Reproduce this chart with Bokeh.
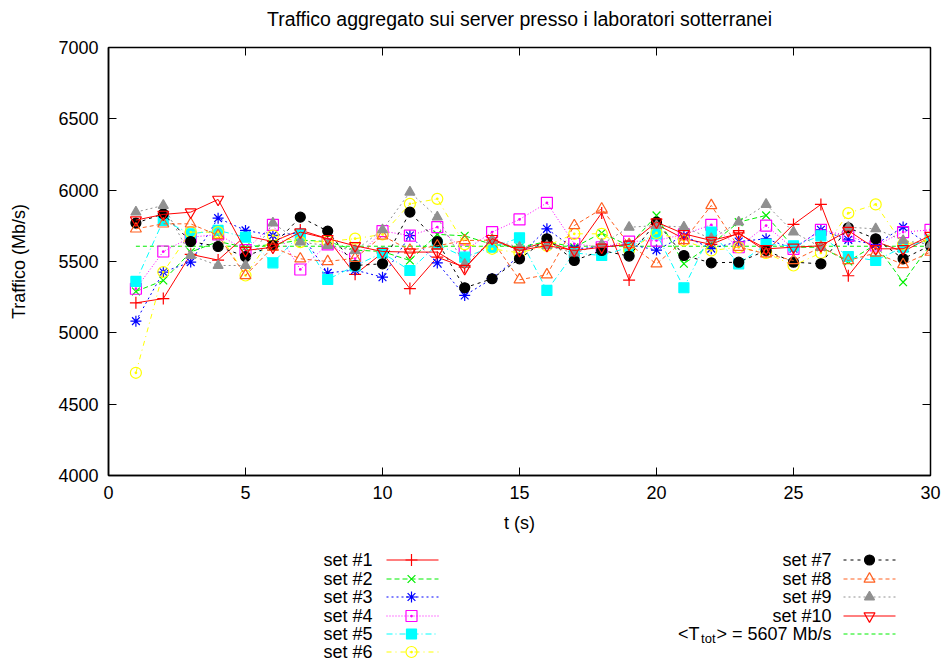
from bokeh.plotting import figure
from bokeh.layouts import column
from bokeh.models import Range1d, LinearAxis, FixedTicker
from bokeh.core.properties import value
from bokeh.embed import file_html
from bokeh.resources import INLINE

t = list(range(1, 31))
set1 = [5210, 5240, 5550, 5510, 5680, 5640, 5720, 5660, 5410, 5560, 5310, 5530, 5460, 5650, 5580,
        5640, 5570, 5840, 5370, 5760, 5660, 5620, 5700, 5570, 5760, 5900, 5400, 5640, 5570, 5670]
set2 = [5290, 5367, 5566, 5640, 5600, 5620, 5650, 5640, 5580, 5570, 5507, 5690, 5680, 5620, 5600,
        5640, 5600, 5700, 5610, 5823, 5484, 5620, 5776, 5823, 5600, 5600, 5500, 5620, 5355, 5620]
set3 = [5082, 5426, 5496, 5804, 5718, 5683, 5700, 5420, 5440, 5390, 5682, 5490, 5262, 5380, 5540,
        5729, 5590, 5600, 5620, 5580, 5680, 5590, 5640, 5659, 5589, 5722, 5652, 5620, 5741, 5610]
set4 = [5309, 5570, 5670, 5690, 5580, 5757, 5444, 5620, 5520, 5713, 5682, 5741, 5577, 5706, 5795,
        5911, 5624, 5600, 5640, 5647, 5690, 5757, 5600, 5752, 5589, 5722, 5680, 5612, 5706, 5722]
set5 = [5360, 5788, 5694, 5718, 5671, 5491, 5690, 5374, 5470, 5560, 5437, 5620, 5530, 5600, 5666,
        5297, 5560, 5542, 5600, 5694, 5316, 5706, 5484, 5620, 5610, 5680, 5535, 5507, 5600, 5650]
set6 = [4720, 5426, 5706, 5706, 5402, 5682, 5636, 5640, 5660, 5690, 5904, 5939, 5620, 5589, 5560,
        5610, 5694, 5694, 5580, 5700, 5647, 5577, 5600, 5560, 5472, 5560, 5839, 5900, 5620, 5650]
set7 = [5769, 5834, 5640, 5605, 5535, 5612, 5811, 5713, 5472, 5484, 5846, 5640, 5316, 5379, 5519,
        5659, 5507, 5577, 5538, 5776, 5542, 5491, 5495, 5577, 5495, 5484, 5736, 5659, 5519, 5612]
set8 = [5729, 5764, 5764, 5683, 5402, 5600, 5519, 5500, 5523, 5680, 5580, 5610, 5647, 5650, 5372,
        5407, 5752, 5869, 5620, 5484, 5647, 5893, 5600, 5554, 5507, 5600, 5507, 5560, 5479, 5566]
set9 = [5846, 5893, 5542, 5472, 5472, 5769, 5636, 5612, 5577, 5722, 5986, 5811, 5480, 5650, 5600,
        5610, 5560, 5620, 5740, 5752, 5741, 5660, 5776, 5900, 5706, 5600, 5740, 5729, 5647, 5620]
set10 = [5790, 5830, 5846, 5935, 5577, 5600, 5706, 5660, 5610, 5570, 5566, 5566, 5450, 5660, 5577,
         5612, 5577, 5600, 5620, 5776, 5694, 5647, 5694, 5589, 5600, 5610, 5717, 5589, 5589, 5682]
mean_value = 5607
mean_t = [1, 30]

title_text = "Traffico aggregato sui server presso i laboratori sotterranei"
names = ["set #1", "set #2", "set #3", "set #4", "set #5",
         "set #6", "set #7", "set #8", "set #9", "set #10"]
x_ticks = [0, 5, 10, 15, 20, 25, 30]
y_ticks = [4000, 4500, 5000, 5500, 6000, 6500, 7000]

FONT = value("Liberation Sans")
FS = "18px"

series = [set1, set2, set3, set4, set5, set6, set7, set8, set9, set10]
styles = [
    dict(color="#ff0000", dash="solid", marker="cross", fill=True, size=12),
    dict(color="#00ee00", dash="5 3", marker="x", fill=True, size=11),
    dict(color="#0000ff", dash="2 3", marker="asterisk", fill=True, size=11),
    dict(color="#ff00ff", dash="1 2", marker="square_dot", fill=False, size=11),
    dict(color="#00ffff", dash="6 3 1 3", marker="square", fill=True, size=10),
    dict(color="#ffff00", dash="5 4 1 4", marker="circle_dot", fill=False, size=11),
    dict(color="#000000", dash="3 4", marker="circle", fill=True, size=10),
    dict(color="#ff6020", dash="4 3", marker="triangle", fill=False, size=11),
    dict(color="#909090", dash="2 3", marker="triangle", fill=True, size=10),
    dict(color="#ff0000", dash="solid", marker="inverted_triangle", fill=False, size=11),
]


def blank(h, y0, y1):
    f = figure(width=943, height=h, output_backend="svg", toolbar_location=None,
               x_range=Range1d(108, 930), y_range=Range1d(y1, y0),
               min_border=0, min_border_left=108, min_border_right=13,
               min_border_top=0, min_border_bottom=0)
    f.axis.visible = False
    f.grid.visible = False
    f.outline_line_color = None
    return f


# title panel (pixel rows 0..30, frame aligned with main frame: x 108..930)
tf = blank(30, 0, 30)
tf.text([519], [18], text=[title_text], text_align="center", text_baseline="middle",
        text_font=FONT, text_font_size="19.5px", text_color="black")

p = figure(width=943, height=505, output_backend="svg", toolbar_location=None,
           x_range=Range1d(0, 30), y_range=Range1d(4000, 7000),
           min_border_left=108, min_border_right=13, min_border_top=17, min_border_bottom=60)
p.grid.visible = False
p.outline_line_color = "black"
p.outline_line_width = 1.5

for ax in (p.xaxis[0], p.yaxis[0]):
    ax.major_tick_in = 8
    ax.major_tick_out = 0
    ax.minor_tick_line_color = None
    ax.major_label_text_font = "Liberation Sans"
    ax.major_label_text_font_size = FS
    ax.major_label_text_color = "black"
    ax.axis_label_text_font = "Liberation Sans"
    ax.axis_label_text_font_size = FS
    ax.axis_label_text_font_style = "normal"
    ax.axis_label_text_color = "black"
    ax.axis_line_width = 1.5
p.xaxis.ticker = FixedTicker(ticks=x_ticks)
p.yaxis.ticker = FixedTicker(ticks=y_ticks)
p.xaxis.axis_label = "t (s)"
p.yaxis.axis_label = "Traffico (Mb/s)"
p.xaxis.major_label_standoff = 10
p.yaxis.major_label_standoff = 10
p.xaxis.axis_label_standoff = 11
p.yaxis.axis_label_standoff = 26

top = LinearAxis(ticker=FixedTicker(ticks=x_ticks), major_tick_in=8, major_tick_out=0,
                 minor_tick_line_color=None, major_label_text_color=None,
                 major_label_text_font_size="0px", major_label_standoff=0)
right = LinearAxis(ticker=FixedTicker(ticks=y_ticks), major_tick_in=8, major_tick_out=0,
                   minor_tick_line_color=None, major_label_text_color=None,
                   major_label_text_font_size="0px", major_label_standoff=0)
p.add_layout(top, "above")
p.add_layout(right, "right")

p.line(mean_t, [mean_value, mean_value], line_color="#00ee00", line_dash="4 3", line_width=1)

for vals, st in zip(series, styles):
    p.line(t, vals, line_color=st["color"], line_dash=st["dash"], line_width=1)
    p.scatter(t, vals, marker=st["marker"], size=st["size"], line_color=st["color"],
              fill_color=st["color"] if st["fill"] else None, line_width=1.2)

# legend panel (pixel rows 535..661)
leg = blank(126, 535, 661)

left_rows = [559, 578, 596, 615, 633, 651]
right_rows = [559, 578, 596, 615]
for i, st in enumerate(styles):
    if i < 6:
        y = left_rows[i]; xt = 372; x0, x1, xm = 386, 438, 411
    else:
        y = right_rows[i - 6]; xt = 831; x0, x1, xm = 843, 895, 869
    leg.text([xt], [y], text=[names[i]], text_align="right", text_baseline="middle",
             text_font=FONT, text_font_size=FS, text_color="black")
    leg.line([x0, x1], [y + 0.5, y + 0.5], line_color=st["color"], line_dash=st["dash"], line_width=1)
    leg.scatter([xm], [y + 0.5], marker=st["marker"], size=st["size"], line_color=st["color"],
                fill_color=st["color"] if st["fill"] else None, line_width=1.2)

ym = 633
leg.text([831], [ym], text=["> = 5607 Mb/s"], text_align="right", text_baseline="middle",
         text_font=FONT, text_font_size=FS, text_color="black")
leg.text([715], [ym + 5], text=["tot"], text_align="right", text_baseline="middle",
         text_font=FONT, text_font_size="13px", text_color="black")
leg.text([699], [ym], text=["<T"], text_align="right", text_baseline="middle",
         text_font=FONT, text_font_size=FS, text_color="black")
leg.line([843, 895], [ym + 0.5, ym + 0.5], line_color="#00ee00", line_dash="4 3", line_width=1)

layout = column(tf, p, leg, spacing=0)
open("out.html", "w").write(file_html(layout, INLINE))
